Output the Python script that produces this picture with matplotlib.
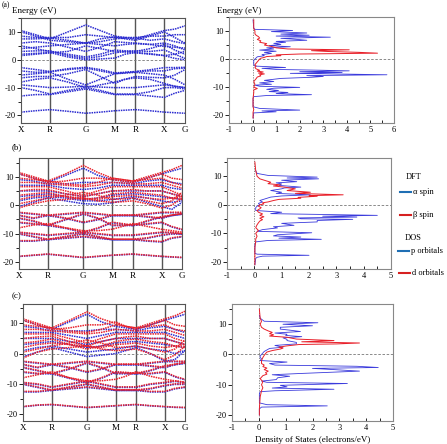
import matplotlib
matplotlib.use("Agg")
import matplotlib.pyplot as plt
from matplotlib.lines import Line2D

plt.rcParams['font.family'] = ['Liberation Serif', 'DejaVu Serif']
plt.rcParams['font.size'] = 6
plt.rcParams['axes.unicode_minus'] = False

# k-path (simple cubic) and sample points along it
kpt_labels = ['X', 'R', 'G', 'M', 'R', 'X', 'G']
kpt_pos = [0.0, 0.707, 1.573, 2.280, 2.780, 3.487, 3.987]
k_samples = [0.0, 0.354, 0.707, 1.140, 1.573, 1.927, 2.280, 2.530, 2.780, 3.134, 3.487, 3.737, 3.987]

# (a) bands, values at k_samples (eV)
bands_a = [
    [10.5, 9.0, 7.5, 10.0, 12.5, 10.5, 8.5, 8.0, 7.5, 9.0, 10.5, 11.0, 12.2],
    [10.0, 8.5, 7.0, 6.5, 6.0, 7.5, 8.2, 7.5, 7.0, 8.5, 10.0, 8.0, 6.0],
    [8.5, 8.0, 8.0, 8.0, 9.0, 8.5, 8.0, 8.0, 8.0, 8.5, 8.5, 9.0, 9.0],
    [7.5, 7.5, 7.8, 7.0, 6.0, 6.5, 7.5, 7.8, 7.8, 7.0, 7.5, 6.5, 5.8],
    [6.0, 6.5, 6.0, 4.5, 3.0, 4.5, 6.5, 6.2, 6.0, 5.5, 6.0, 5.0, 3.5],
    [4.0, 4.5, 5.0, 5.5, 6.0, 5.5, 5.0, 5.5, 5.8, 5.5, 4.8, 4.5, 4.2],
    [5.0, 4.0, 3.0, 2.0, 1.0, 2.0, 3.5, 3.2, 3.0, 4.0, 5.5, 3.5, 2.0],
    [3.0, 3.2, 3.2, 1.5, 0.5, 1.2, 2.5, 3.0, 3.2, 3.0, 3.5, 2.0, 0.5],
    [2.0, 2.3, 2.6, 1.0, 0.0, 0.3, 0.6, 2.0, 2.6, 2.2, 1.5, 0.5, 0.0],
    [1.5, 2.0, 2.5, 3.0, 5.0, 4.0, 3.0, 2.8, 2.5, 2.0, 1.5, 2.0, 3.0],
    [-2.8, -3.5, -4.2, -3.2, -2.7, -3.5, -4.7, -4.5, -4.2, -3.6, -2.8, -2.8, -2.7],
    [-4.0, -4.5, -4.3, -3.5, -3.0, -4.0, -5.0, -4.6, -4.3, -4.0, -4.0, -3.2, -3.0],
    [-5.5, -5.0, -4.5, -7.0, -9.0, -7.0, -5.0, -4.8, -4.5, -5.0, -5.5, -7.0, -9.0],
    [-6.5, -6.0, -6.0, -5.0, -3.5, -6.0, -8.5, -7.0, -6.0, -6.3, -6.5, -5.5, -3.5],
    [-8.0, -7.0, -6.5, -8.0, -10.0, -9.0, -8.0, -7.0, -6.5, -7.0, -8.5, -9.5, -10.0],
    [-9.0, -9.5, -10.0, -9.8, -9.5, -9.8, -10.0, -10.0, -10.0, -9.5, -9.0, -9.5, -10.0],
    [-10.0, -11.0, -12.3, -11.0, -10.0, -11.0, -12.3, -12.3, -12.3, -11.5, -10.0, -10.0, -10.5],
    [-13.0, -12.5, -12.5, -11.5, -10.5, -11.5, -12.5, -12.5, -12.5, -13.0, -13.5, -12.0, -11.0],
    [-18.8, -18.3, -17.9, -18.5, -19.2, -18.8, -18.3, -18.1, -17.9, -18.3, -18.8, -19.0, -19.2],
]

# (b) bands
bands_b_beta = [
    [11.5, 10.0, 8.5, 11.0, 14.0, 11.5, 9.5, 9.0, 8.5, 10.0, 11.5, 12.5, 14.0],
    [11.0, 9.5, 8.0, 8.5, 9.5, 9.5, 9.0, 8.5, 8.0, 9.5, 11.0, 9.5, 9.0],
    [9.5, 9.0, 8.5, 7.5, 7.0, 8.0, 9.5, 9.0, 8.5, 9.0, 9.5, 8.0, 7.0],
    [8.0, 8.0, 7.5, 7.0, 6.5, 7.0, 8.0, 7.8, 7.5, 7.5, 8.0, 7.0, 6.0],
    [6.5, 6.5, 6.5, 5.0, 3.5, 5.0, 6.5, 6.5, 6.5, 6.5, 6.5, 5.0, 3.5],
    [5.0, 5.5, 5.5, 4.0, 3.0, 4.0, 5.0, 5.2, 5.5, 5.0, 5.0, 4.0, 3.0],
    [3.5, 4.0, 4.5, 3.0, 2.0, 2.5, 4.0, 4.2, 4.5, 4.0, 3.5, 2.5, 2.0],
    [2.0, 3.0, 3.5, 3.0, 2.5, 2.0, 3.0, 3.2, 3.5, 2.5, 2.0, 2.5, 3.0],
    [0.5, 1.5, 2.5, 3.5, 4.5, 3.5, 2.0, 2.2, 2.5, 1.5, 0.5, 1.5, 4.5],
    [-1.0, 0.5, 1.5, 2.0, 2.5, 1.5, 1.0, 1.2, 1.5, 0.5, -1.0, 0.0, 2.5],
    [-2.5, -3.0, -3.5, -3.0, -2.5, -3.0, -3.5, -3.5, -3.5, -3.0, -2.5, -2.5, -2.5],
    [-3.5, -4.5, -3.5, -4.5, -6.0, -5.0, -3.5, -3.5, -3.5, -4.0, -4.5, -3.5, -3.0],
    [-4.5, -5.5, -7.0, -5.0, -3.0, -4.5, -7.0, -7.0, -7.0, -5.5, -4.0, -3.5, -3.0],
    [-6.0, -6.5, -7.0, -8.0, -9.5, -8.0, -6.0, -6.5, -7.0, -6.5, -6.0, -7.5, -8.5],
    [-8.0, -7.0, -6.5, -8.0, -9.0, -9.0, -8.5, -7.5, -6.5, -7.5, -8.5, -9.0, -9.5],
    [-9.5, -10.0, -10.5, -10.0, -9.5, -10.0, -10.5, -10.5, -10.5, -10.0, -9.5, -9.5, -10.0],
    [-10.0, -11.0, -12.0, -11.0, -10.0, -11.0, -12.0, -12.0, -12.0, -11.5, -10.5, -10.0, -10.0],
    [-12.5, -12.5, -12.0, -11.5, -11.0, -11.5, -12.0, -12.0, -12.0, -12.5, -12.8, -11.5, -11.0],
    [-18.0, -17.6, -17.2, -17.8, -18.4, -18.0, -17.6, -17.4, -17.2, -17.6, -18.0, -18.2, -18.4],
]
bands_b_alpha = [
    [11.0, 9.5, 8.0, 10.5, 13.0, 10.5, 9.0, 8.5, 8.0, 9.5, 11.0, 12.0, 13.0],
    [9.0, 8.5, 7.5, 7.5, 8.0, 8.0, 8.0, 7.8, 7.5, 8.5, 9.0, 8.0, 7.5],
    [7.0, 7.0, 7.0, 6.0, 5.5, 6.0, 7.0, 7.0, 7.0, 7.0, 7.0, 6.0, 5.5],
    [5.0, 5.0, 5.0, 4.0, 3.0, 4.0, 5.0, 5.0, 5.0, 5.0, 5.0, 4.0, 3.0],
    [3.0, 3.5, 4.0, 3.0, 2.0, 2.5, 3.5, 3.8, 4.0, 3.5, 3.0, 2.5, 2.0],
    [1.5, 2.5, 3.0, 2.5, 1.5, 1.5, 2.0, 2.5, 3.0, 2.5, 1.5, 1.0, 1.5],
    [-0.5, 1.0, 2.5, 1.5, 0.5, 0.3, 0.8, 1.5, 2.5, 1.0, -0.5, -1.5, 1.0],
    [-2.7, -3.2, -3.7, -3.2, -2.7, -3.2, -3.7, -3.7, -3.7, -3.2, -2.7, -2.7, -2.7],
    [-3.7, -4.7, -3.7, -4.7, -6.2, -5.2, -3.7, -3.7, -3.7, -4.2, -4.7, -3.7, -3.2],
    [-4.7, -5.7, -7.2, -5.2, -3.2, -4.7, -7.2, -7.2, -7.2, -5.7, -4.2, -3.7, -3.2],
    [-6.2, -6.7, -7.2, -8.2, -9.7, -8.2, -6.2, -6.7, -7.2, -6.7, -6.2, -7.7, -8.7],
    [-9.7, -10.2, -10.7, -10.2, -9.7, -10.2, -10.7, -10.7, -10.7, -10.2, -9.7, -9.7, -10.2],
    [-10.2, -11.2, -12.2, -11.2, -10.2, -11.2, -12.2, -12.2, -12.2, -11.7, -10.7, -10.2, -10.2],
    [-12.7, -12.7, -12.2, -11.7, -11.2, -11.7, -12.2, -12.2, -12.2, -12.7, -13.0, -11.7, -11.2],
    [-18.1, -17.7, -17.3, -17.9, -18.5, -18.1, -17.7, -17.5, -17.3, -17.7, -18.1, -18.3, -18.5],
]

# (c) bands
bands_c_beta = [
    [11.5, 10.0, 8.5, 11.0, 13.8, 11.5, 10.0, 9.0, 8.5, 10.0, 11.5, 12.5, 14.0],
    [11.0, 9.5, 8.0, 8.5, 9.5, 9.5, 10.5, 9.0, 8.0, 9.5, 11.0, 9.5, 9.0],
    [9.5, 9.0, 8.5, 7.5, 7.0, 8.0, 9.5, 9.0, 8.5, 9.0, 9.5, 8.0, 7.5],
    [8.0, 8.0, 7.5, 7.0, 6.5, 7.0, 8.0, 7.8, 7.5, 7.5, 8.0, 7.0, 6.0],
    [6.5, 6.5, 6.5, 5.0, 3.5, 5.0, 6.5, 6.5, 6.5, 6.5, 6.5, 5.0, 4.0],
    [5.0, 5.5, 5.8, 4.0, 2.5, 4.0, 5.0, 5.5, 5.8, 5.0, 5.0, 4.0, 3.0],
    [3.5, 4.0, 4.8, 3.0, 1.5, 2.5, 4.0, 4.5, 4.8, 4.0, 3.5, 2.5, 2.0],
    [2.0, 3.0, 3.5, 3.0, 2.5, 2.0, 3.0, 3.2, 3.5, 2.5, 2.0, 2.5, 3.0],
    [0.5, 1.5, 2.5, 3.5, 4.5, 3.5, 2.0, 2.2, 2.5, 1.5, 0.5, 1.5, 4.5],
    [-1.5, 0.5, 1.5, 2.0, 2.5, 1.5, 1.0, 1.2, 1.5, 0.0, -2.0, -0.5, 2.5],
    [-2.5, -3.0, -3.5, -3.0, -2.5, -3.0, -3.5, -3.5, -3.5, -3.0, -2.5, -2.5, -2.5],
    [-3.5, -4.5, -3.5, -4.5, -6.0, -5.0, -3.5, -3.5, -3.5, -4.0, -4.5, -3.5, -3.0],
    [-4.5, -5.5, -6.5, -5.0, -3.0, -4.5, -6.5, -6.5, -6.5, -5.5, -4.0, -3.5, -3.0],
    [-6.0, -6.5, -6.5, -8.0, -9.5, -8.0, -6.0, -6.2, -6.5, -6.5, -6.0, -7.5, -8.5],
    [-8.0, -7.0, -6.0, -8.0, -9.0, -9.0, -8.5, -7.5, -6.0, -7.5, -8.5, -9.0, -9.5],
    [-9.5, -10.0, -11.0, -10.0, -9.0, -10.0, -11.0, -11.0, -11.0, -10.0, -9.5, -9.0, -9.5],
    [-10.0, -11.0, -12.0, -11.0, -10.0, -11.0, -12.0, -12.0, -12.0, -11.5, -10.5, -10.0, -10.0],
    [-12.5, -12.5, -12.0, -11.5, -11.0, -11.5, -12.0, -12.0, -12.0, -12.5, -12.5, -11.5, -11.0],
    [-17.5, -17.0, -16.8, -17.3, -17.8, -17.5, -17.2, -17.0, -16.8, -17.2, -17.5, -17.7, -17.8],
]
bands_c_alpha = [
    [11.0, 9.5, 8.0, 10.5, 13.0, 10.5, 9.0, 8.5, 8.0, 9.5, 11.0, 12.0, 13.0],
    [9.0, 8.5, 7.5, 7.5, 7.5, 8.0, 8.0, 7.8, 7.5, 8.5, 9.0, 8.0, 7.0],
    [7.0, 7.0, 7.0, 6.0, 5.0, 6.0, 7.0, 7.0, 7.0, 7.0, 7.0, 6.0, 5.0],
    [5.0, 5.0, 5.0, 4.0, 3.0, 4.0, 5.0, 5.0, 5.0, 5.0, 5.0, 4.0, 3.0],
    [3.0, 3.5, 4.0, 3.0, 2.0, 2.5, 3.5, 3.8, 4.0, 3.5, 3.0, 2.5, 2.0],
    [1.0, 2.0, 2.5, 1.5, 0.5, 1.0, 1.5, 2.0, 2.5, 1.5, 1.0, 0.0, 1.0],
    [-1.0, 0.5, 2.0, 0.5, -1.0, -0.5, 0.0, 1.0, 2.0, 0.0, -2.5, -2.0, 1.0],
    [-2.7, -3.2, -3.7, -3.2, -2.7, -3.2, -3.7, -3.7, -3.7, -3.2, -2.7, -2.7, -2.7],
    [-3.7, -4.7, -3.7, -4.7, -6.2, -5.2, -3.7, -3.7, -3.7, -4.2, -4.7, -3.7, -3.2],
    [-4.7, -5.7, -6.7, -5.2, -3.2, -4.7, -6.7, -6.7, -6.7, -5.7, -4.2, -3.7, -3.2],
    [-6.2, -6.7, -6.7, -8.2, -9.7, -8.2, -6.2, -6.4, -6.7, -6.7, -6.2, -7.7, -8.7],
    [-9.7, -10.2, -11.2, -10.2, -9.2, -10.2, -11.2, -11.2, -11.2, -10.2, -9.7, -9.2, -9.7],
    [-10.2, -11.2, -12.2, -11.2, -10.2, -11.2, -12.2, -12.2, -12.2, -11.7, -10.7, -10.2, -10.2],
    [-12.7, -12.7, -12.2, -11.7, -11.2, -11.7, -12.2, -12.2, -12.2, -12.7, -12.7, -11.7, -11.2],
    [-17.6, -17.1, -16.9, -17.4, -17.9, -17.6, -17.3, -17.1, -16.9, -17.3, -17.6, -17.8, -17.9],
]

# DOS curves: energies (eV) and densities (electrons/eV)
dos_a_p_E = [14, 11, 10.6, 10.2, 9.8, 9.3, 8.9, 8.5, 8.2, 7.8, 7.4, 7.0, 6.7, 6.3, 6.0, 5.6, 5.2,
             4.8, 4.4, 4.0, 3.6, 3.2, 2.8, 2.4, 2.0, 1.6, 1.2, 0.8, 0.4, 0, -0.5, -1, -1.5, -2,
             -2.5, -3.0, -3.3, -3.7, -4.0, -4.2, -4.5, -4.8, -5.1, -5.4, -5.6, -5.9, -6.2, -6.5,
             -6.9, -7.2, -7.6, -8.0, -8.5, -9.0, -9.3, -9.7, -10.1, -10.4, -10.8, -11.2, -11.6,
             -11.9, -12.3, -12.7, -13.0, -13.4, -14, -17, -17.6, -18.2, -18.5, -18.8, -19.2, -21]
dos_a_p = [0.02, 0.05, 0.1, 1.7, 0.8, 2.3, 1.2, 2.4, 1.0, 3.3, 1.2, 1.9, 2.3, 1.0, 1.4, 0.9, 1.2,
           0.7, 1.6, 0.6, 0.9, 0.3, 1.0, 0.5, 0.8, 0.4, 0.5, 0.2, 0.15, 0.1, 0.05, 0.05, 0.05, 0.05,
           0.1, 1.4, 0.4, 1.0, 3.0, 4.1, 2.0, 3.8, 1.6, 4.2, 5.7, 2.3, 3.0, 2.5,
           1.2, 0.9, 0.5, 0.9, 0.3, 0.8, 0.1, 0.3, 2.0, 0.9, 0.6, 1.1, 0.7,
           1.5, 1.0, 2.5, 0.6, 0.05, 0.02, 0.02, 0.3, 2.0, 0.4, 1.0, 0.05, 0.02]
dos_a_d_E = [14, 12, 11, 10, 9, 8.5, 8, 7.5, 7, 6.5, 6, 5.5, 5, 4.5, 4, 3.6, 3.3, 3.0, 2.7, 2.4,
             2.1, 1.8, 1.5, 1.2, 0.9, 0.6, 0.3, 0, -0.5, -1, -1.5, -2, -2.5, -3, -3.5, -4, -4.3,
             -4.6, -5, -5.3, -5.6, -6, -6.4, -7, -7.5, -8, -9, -10, -10.5, -11, -12, -14, -17,
             -18, -19, -21]
dos_a_d = [0.05, 0.05, 0.05, 0.1, 0.1, 0.15, 0.25, 0.3, 0.2, 0.35, 0.3, 0.6, 0.5, 0.8, 1.0, 1.5,
           4.1, 2.5, 3.2, 4.5, 5.3, 2.0, 1.0, 1.2, 0.6, 0.5, 0.35, 0.3, 0.25, 0.2, 0.15, 0.1, 0.15,
           0.1, 0.15, 0.3, 0.2, 0.45, 0.25, 0.5, 0.3, 0.35, 0.2, 0.15, 0.1, 0.05, 0.1, 0.05, 0.2,
           0.05, 0.05, 0.02, 0.02, 0.05, 0.02, 0.02]

dos_b_p_E = [12, 11, 10.3, 9.7, 9.4, 9.1, 8.6, 8.1, 7.7, 7.3, 6.8, 6.2, 5.9, 5.6, 5.0, 4.4, 4.0,
             3.5, 3.1, 2.7, 2.1, 1.5, 1.0, 0.5, 0, -0.5, -1, -1.5, -2, -2.6, -3.1, -3.7, -4.0,
             -4.3, -4.6, -4.9, -5.1, -5.5, -6.0, -6.5, -7.2, -7.7, -8.1, -8.7, -9.3, -9.8, -10.5,
             -10.9, -11.3, -11.7, -12.1, -12.5, -13, -14, -17, -17.3, -17.7, -18.0, -18.4, -18.8, -21]
dos_b_p = [0.05, 0.1, 0.5, 2.3, 1.2, 2.35, 1.0, 1.55, 0.8, 1.0, 0.9, 1.7, 1.1, 1.0, 0.6, 1.0, 0.8,
           2.05, 1.0, 0.6, 0.4, 0.2, 0.3, 0.15, 0.2, 0.1, 0.05, 0.05, 0.05, 1.0, 0.6, 4.5, 2.5,
           3.75, 1.6, 1.7, 3.6, 2.3, 2.3, 1.0, 1.45, 0.7, 0.85, 0.3, 0.1, 2.1, 0.85,
           0.7, 1.7, 0.9, 2.45, 0.5, 0.05, 0.02, 0.02, 0.1, 2.0, 0.3, 0.1, 0.05, 0.02]
dos_b_d_E = [15, 12, 10, 9.1, 8.5, 7.9, 7.4, 7.0, 6.6, 6.2, 5.6, 5.0, 4.4, 4.0, 3.5, 3.2, 3.0, 2.6,
             2.3, 1.9, 1.5, 1.0, 0.7, 0.3, 0, -0.5, -1.0, -1.4, -2, -2.6, -3.2, -3.7, -4.2, -4.7,
             -5.2, -5.7, -6.3, -7, -8, -9, -10, -11, -12, -13, -15, -18, -21]
dos_b_d = [0.02, 0.05, 0.1, 0.2, 0.4, 0.6, 0.5, 0.95, 0.7, 1.1, 1.5, 1.2, 2.05, 1.5, 3.25, 2.0, 2.3,
           1.6, 1.7, 0.9, 0.7, 0.5, 0.3, 0.35, 0.2, 0.15, 0.25, 0.2, 0.1, 0.15, 0.3, 0.2, 0.35,
           0.2, 0.3, 0.2, 0.15, 0.1, 0.05, 0.15, 0.05, 0.1, 0.05, 0.05, 0.02, 0.02, 0.02]

dos_c_p_E = [13, 12, 11, 10.5, 10.0, 9.5, 9.0, 8.4, 8.0, 7.6, 7.1, 6.7, 6.3, 5.9, 5.5, 5.0, 4.6,
             4.0, 3.5, 3.0, 2.4, 2.0, 1.5, 1.0, 0.5, 0, -0.5, -1.0, -1.4, -2.0, -2.5, -3.0, -3.5,
             -3.9, -4.3, -4.6, -5.0, -5.5, -6.3, -6.7, -7.2, -7.7, -8.3, -8.8, -9.2, -9.6, -10.2,
             -10.7, -11.1, -11.5, -12.0, -12.3, -13, -16, -16.6, -17.0, -17.4, -18, -20]
dos_c_p = [0.02, 0.05, 0.2, 2.2, 0.9, 2.0, 0.8, 0.8, 1.2, 1.55, 0.6, 1.05, 1.0, 1.6, 0.9, 1.05,
           1.05, 1.4, 1.4, 0.6, 0.9, 0.4, 0.3, 0.2, 0.15, 0.1, 0.05, 0.05, 0.1, 0.05, 1.05, 0.4,
           0.6, 3.65, 4.45, 2.0, 2.8, 3.75, 1.5, 0.5, 1.15, 0.7, 0.65, 0.1, 0.3, 3.3, 0.8,
           1.05, 0.5, 2.8, 0.6, 0.05, 0.02, 0.02, 0.3, 2.55, 0.1, 0.02, 0.02]
dos_c_d_E = [15, 12, 11, 10, 9, 8.4, 7.8, 7.3, 6.9, 6.5, 6.1, 5.7, 5.1, 4.6, 4.2, 3.8, 3.5, 3.3,
             2.8, 2.4, 2.1, 1.8, 1.3, 0.8, 0.3, -0.3, -1, -2, -3, -3.5, -4, -4.5, -5, -5.5, -6,
             -6.5, -7, -8, -9, -10, -11, -12, -14, -18, -20]
dos_c_d = [0.02, 0.05, 0.1, 0.05, 0.1, 0.2, 0.35, 0.5, 0.4, 0.55, 0.4, 1.05, 1.4, 2.8, 1.6, 3.75,
           2.9, 1.5, 1.0, 0.75, 0.9, 0.8, 0.5, 0.3, 0.25, 0.2, 0.15, 0.1, 0.1, 0.2, 0.15, 0.3,
           0.2, 0.35, 0.25, 0.3, 0.15, 0.05, 0.15, 0.1, 0.15, 0.1, 0.05, 0.02, 0.02]

energy_ticks = [10, 0, -10, -20]
dos_ticks_a = [-1, 0, 1, 2, 3, 4, 5, 6]
dos_ticks_bc = [-1, 0, 1, 2, 3, 4, 5]

BLUE = '#2b2bd0'
DOS_BLUE = '#3a3adc'
RED = '#e8202a'
W, H = 447, 444


def box(l, t, r, b):
    return [l / W, 1 - b / H, (r - l) / W, (b - t) / H]


def style_band(ax, ylim):
    ax.set_xlim(kpt_pos[0], kpt_pos[-1])
    ax.set_ylim(*ylim)
    for k in kpt_pos[1:-1]:
        ax.axvline(k, color='#555555', lw=1.0, zorder=1)
    ax.axhline(0, color='#777777', lw=0.6, ls=(0, (3, 2)), zorder=1)
    ax.set_xticks(kpt_pos)
    ax.set_xticklabels(kpt_labels, fontsize=6.5)
    ax.set_yticks(energy_ticks)
    ax.set_yticks([15, 5, -5, -15], minor=True)
    ax.tick_params(axis='x', length=0, pad=2)
    ax.tick_params(axis='y', which='major', length=3, width=0.6, pad=1, labelsize=6)
    ax.tick_params(axis='y', which='minor', length=2, width=0.6)
    for s in ax.spines.values():
        s.set_color('#555555')
        s.set_linewidth(0.8)


def style_dos(ax, xt, ylim):
    ax.set_xlim(xt[0], xt[-1])
    ax.set_ylim(*ylim)
    ax.axhline(0, color='#777777', lw=0.6, ls=(0, (3, 2)), zorder=1)
    ax.axvline(0, color='#777777', lw=0.6, ls=(0, (1.5, 1.5)), zorder=1)
    ax.set_xticks(xt)
    ax.set_xticks([v + 0.5 for v in xt[:-1]], minor=True)
    ax.set_yticks(energy_ticks)
    ax.set_yticks([15, 5, -5, -15], minor=True)
    ax.tick_params(axis='x', which='both', direction='in', length=2, width=0.6, pad=2, labelsize=6)
    ax.tick_params(axis='y', which='major', length=3, width=0.6, pad=1, labelsize=6)
    ax.tick_params(axis='y', which='minor', length=2, width=0.6)
    for s in ax.spines.values():
        s.set_color('#888888')
        s.set_linewidth(0.8)


def draw_bands(ax, bands, color):
    for b in bands:
        ax.plot(k_samples, b, color=color, lw=1.1, ls=(0, (1, 0.6)), zorder=2)


fig = plt.figure(figsize=(W / 100, H / 100), dpi=100)

# (a)
ax = fig.add_axes(box(21, 18, 185, 123))
draw_bands(ax, bands_a, BLUE)
style_band(ax, (-22.7, 13.7))
ax = fig.add_axes(box(229, 17, 394, 123))
ax.plot(dos_a_p, dos_a_p_E, color=DOS_BLUE, lw=0.6, zorder=2)
ax.plot(dos_a_d, dos_a_d_E, color=RED, lw=0.7, zorder=3)
style_dos(ax, dos_ticks_a, (-22.8, 15))

# (b)
ax = fig.add_axes(box(19, 158, 182, 269))
draw_bands(ax, bands_b_alpha, BLUE)
draw_bands(ax, bands_b_beta, RED)
style_band(ax, (-22.5, 16.6))
ax = fig.add_axes(box(227, 158, 391, 269))
ax.plot(dos_b_p, dos_b_p_E, color=DOS_BLUE, lw=0.6, zorder=2)
ax.plot(dos_b_d, dos_b_d_E, color=RED, lw=0.7, zorder=3)
style_dos(ax, dos_ticks_bc, (-22.5, 16.4))

# (c)
ax = fig.add_axes(box(23, 304, 185, 421))
draw_bands(ax, bands_c_alpha, BLUE)
draw_bands(ax, bands_c_beta, RED)
style_band(ax, (-22.3, 16.4))
ax = fig.add_axes(box(232, 304, 393, 421))
ax.plot(dos_c_p, dos_c_p_E, color=DOS_BLUE, lw=0.6, zorder=2)
ax.plot(dos_c_d, dos_c_d_E, color=RED, lw=0.7, zorder=3)
style_dos(ax, dos_ticks_bc, (-22.0, 16.7))
ax.set_xlabel('Density of States (electrons/eV)', fontsize=6.5, labelpad=3)

# panel labels and titles
fig.text(2 / W, 1 - 1 / H, '(a)', fontsize=5.5, va='top')
fig.text(12 / W, 1 - 147 / H, '(b)', fontsize=6.5, va='center')
fig.text(12 / W, 1 - 296 / H, '(c)', fontsize=6.5, va='center')
fig.text(12 / W, 1 - 11 / H, 'Energy (eV)', fontsize=6.5, va='center')
fig.text(217 / W, 1 - 11 / H, 'Energy (eV)', fontsize=6.5, va='center')

# legend
leg = [('DFT', None, 177, 406), ('\u03b1 spin', '#1f6fb4', 192, 400), ('\u03b2 spin', '#d62020', 215, 400),
       ('DOS', None, 238, 405), ('p orbitals', '#1f6fb4', 251, 398), ('d orbitals', '#d62020', 273, 399)]
for txt, col, y, x in leg:
    yf = 1 - y / H
    if col is None:
        fig.text(x / W, yf, txt, fontsize=6, va='center')
    else:
        fig.add_artist(Line2D([x / W, (x + 11) / W], [yf, yf], color=col, lw=1.5))
        fig.text((x + 13) / W, yf, txt, fontsize=6, va='center')

fig.savefig('out.png', dpi=100)
